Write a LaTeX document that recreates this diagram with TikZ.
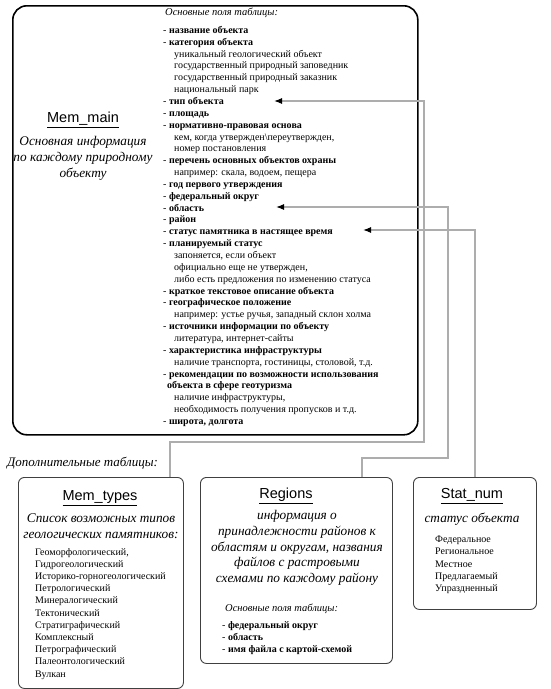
\documentclass[tikz,border=0pt]{standalone}
\usepackage{fontspec}
\setmainfont{Liberation Serif}
\newfontfamily\titlefont{Liberation Sans}
\usetikzlibrary{arrows.meta,positioning,calc}

% list helpers
\newcommand{\fitem}[1]{- \textbf{#1}}
\newcommand{\fnote}[1]{\hspace*{11pt}#1}

\begin{document}
\begin{tikzpicture}[
  x=1pt, y=-1pt,
  >={Latex[length=8pt,width=6pt,black]},
  mainbox/.style={draw=black, line width=1.6pt, rounded corners=14pt,
    anchor=north west, inner sep=0pt},
  subbox/.style={draw=black!75, line width=0.9pt, rounded corners=6pt,
    anchor=north west, inner sep=0pt},
  tabtitle/.style={font=\titlefont\fontsize{14.5}{16}\selectfont},
  note/.style={font=\itshape\fontsize{13.3}{15.8}\selectfont, align=center, inner sep=0pt},
  caption/.style={font=\itshape\fontsize{10.5}{12}\selectfont, anchor=west, inner sep=0pt},
  fields/.style={font=\fontsize{10}{11.85}\selectfont, align=left,
    anchor=north west, inner sep=0pt},
  values/.style={font=\fontsize{10}{12.2}\selectfont, align=left,
    anchor=north west, inner sep=0pt},
  link/.style={draw=black!32, line width=1.1pt, ->},
]
  \useasboundingbox (0,0) rectangle (551,689);

  % main table
  \node[mainbox, minimum width=405pt, minimum height=429pt] (main) at (12,5) {};
  \node[tabtitle] (maintitle) at (83,120) {\underline{Mem\_main}};
  \node[note, below=5pt of maintitle] (mainnote)
    {Основная информация\\по каждому природному\\объекту};
  \node[caption] (maincap) at (165,13) {Основные поля таблицы:};
  \node[fields] (mainfields) at (163,26) {%
    \fitem{название объекта}\\
    \fitem{категория объекта}\\
    \fnote{уникальный геологический объект}\\
    \fnote{государственный природный заповедник}\\
    \fnote{государственный природный заказник}\\
    \fnote{национальный парк}\\
    \fitem{тип объекта}\\
    \fitem{площадь}\\
    \fitem{нормативно-правовая основа}\\
    \fnote{кем, когда утвержден\textbackslash переутвержден,}\\
    \fnote{номер постановления}\\
    \fitem{перечень основных объектов охраны}\\
    \fnote{например: скала, водоем, пещера}\\
    \fitem{год первого утверждения}\\
    \fitem{федеральный округ}\\
    \fitem{область}\\
    \fitem{район}\\
    \fitem{статус памятника в настящее время}\\
    \fitem{планируемый статус}\\
    \fnote{запоняется, если объект}\\
    \fnote{официально еще не утвержден,}\\
    \fnote{либо есть предложения по изменению статуса}\\
    \fitem{краткое текстовое описание объекта}\\
    \fitem{географическое положение}\\
    \fnote{например: устье ручья, западный склон холма}\\
    \fitem{источники информации по объекту}\\
    \fnote{литература, интернет-сайты}\\
    \fitem{характеристика инфраструктуры}\\
    \fnote{наличие транспорта, гостиницы, столовой, т.д.}\\
    \hspace*{0pt}- \textbf{рекомендации по возможности использования}\\
    \hspace*{4pt}\textbf{объекта в сфере геотуризма}\\
    \fnote{наличие инфраструктуры,}\\
    \fnote{необходимость получения пропусков и т.д.}\\
    \fitem{широта, долгота}};

  % arrow targets
  \coordinate (tipType)   at (274,101);
  \coordinate (tipArea)   at (276,207);
  \coordinate (tipStatus) at (363,230);

  \node[font=\itshape\fontsize{13}{15}\selectfont, anchor=west, inner sep=0pt]
    (extracap) at (7,463) {Дополнительные таблицы:};

  % extra tables
  \node[subbox, minimum width=165pt, minimum height=211pt] (types) at (18,477) {};
  \node[tabtitle] (typestitle) at (100,498) {\underline{Mem\_types}};
  \node[note] (typesnote) at (101,526) {Список возможных типов\\геологических памятников:};
  \node[values] (typeslist) at (35,548) {%
    Геоморфологический,\\
    Гидрогеологический\\
    Историко-горногеологический\\
    Петрологический\\
    Минералогический\\
    Тектонический\\
    Стратиграфический\\
    Комплексный\\
    Петрографический\\
    Палеонтологический\\
    Вулкан};

  \node[subbox, minimum width=192pt, minimum height=186pt] (regions) at (200,477) {};
  \node[tabtitle] (regionstitle) at (286,496) {\underline{Regions}};
  \node[note] (regionsnote) at (297,548)
    {информация о\\принадлежности районов к\\областям и округам, названия\\файлов с растровыми\\схемами по каждому району};
  \node[caption] (regionscap) at (225,609) {Основные поля таблицы:};
  \node[values] (regionsfields) at (222,621) {%
    \fitem{федеральный округ}\\
    \fitem{область}\\
    \fitem{имя файла с картой-схемой}};

  \node[subbox, minimum width=123pt, minimum height=132pt] (stat) at (413,477) {};
  \node[tabtitle] (stattitle) at (472,496) {\underline{Stat\_num}};
  \node[note] (statnote) at (472,519) {статус объекта};
  \node[values] (statlist) at (435,536) {%
    Федеральное\\
    Региональное\\
    Местное\\
    Предлагаемый\\
    Упраздненный};

  % links to main fields
  \draw[link] (170,0 |- types.north) |- (424,442) |- (tipType);
  \draw[link] (362,0 |- regions.north) |- (448,458) |- (tipArea);
  \draw[link] (stat.north) |- (tipStatus);
\end{tikzpicture}
\end{document}
